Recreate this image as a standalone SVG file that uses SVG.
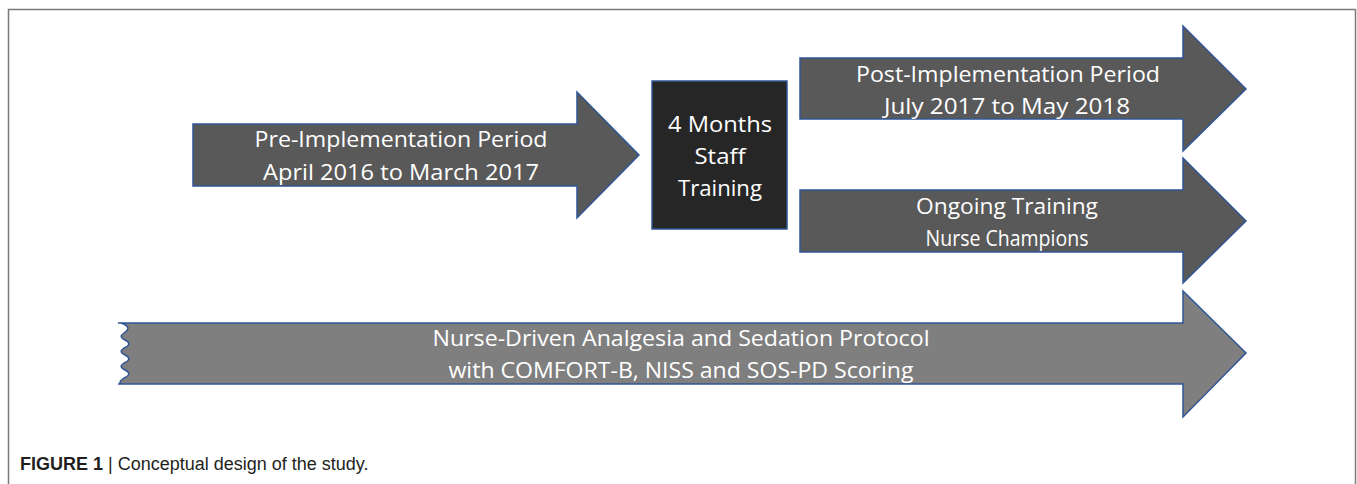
<svg xmlns="http://www.w3.org/2000/svg" width="1357" height="484" viewBox="0 0 1357 484">
  <style>
    .shape { stroke: #2f5597; stroke-width: 1.5; stroke-linejoin: miter; }
    .dark { fill: #595959; }
    .black { fill: #262626; }
    .mid { fill: #7f7f7f; }
    .lbl { font-family: "Open Sans", "Noto Sans", sans-serif; font-size: 22px; fill: #ffffff; text-anchor: middle; }
    .cap { font-family: "Liberation Sans", Arial, sans-serif; font-size: 18px; fill: #231f20; }
  </style>
  <rect width="1357" height="484" fill="#ffffff"/>
  <!-- figure frame -->
  <rect x="8.5" y="9.5" width="1347" height="490" fill="none" stroke="#7a7a7a" stroke-width="1.5"/>

  <g id="pre-implementation">
    <path class="shape dark" d="M193,124 L577,124 L577,92 L639,155 L577,218 L577,186 L193,186 Z"/>
    <text class="lbl" x="401" y="147" textLength="293" lengthAdjust="spacingAndGlyphs">Pre-Implementation Period</text>
    <text class="lbl" x="401" y="180" textLength="276" lengthAdjust="spacingAndGlyphs">April 2016 to March 2017</text>
  </g>

  <g id="staff-training">
    <rect class="shape black" x="652" y="81" width="135" height="148"/>
    <text class="lbl" x="720" y="132" textLength="104" lengthAdjust="spacingAndGlyphs">4 Months</text>
    <text class="lbl" x="720" y="164" textLength="51" lengthAdjust="spacingAndGlyphs">Staff</text>
    <text class="lbl" x="720" y="196" textLength="84" lengthAdjust="spacingAndGlyphs">Training</text>
  </g>

  <g id="post-implementation">
    <path class="shape dark" d="M800,58 L1183,58 L1183,26 L1246,89 L1183,151 L1183,119 L800,119 Z"/>
    <text class="lbl" x="1008" y="82" textLength="304" lengthAdjust="spacingAndGlyphs">Post-Implementation Period</text>
    <text class="lbl" x="1007" y="114" textLength="246" lengthAdjust="spacingAndGlyphs">July 2017 to May 2018</text>
  </g>

  <g id="ongoing-training">
    <path class="shape dark" d="M800,190 L1183,190 L1183,158 L1246,221 L1183,283 L1183,252 L800,252 Z"/>
    <text class="lbl" x="1007" y="214" textLength="182" lengthAdjust="spacingAndGlyphs">Ongoing Training</text>
    <text class="lbl" x="1007" y="246" textLength="163" lengthAdjust="spacingAndGlyphs">Nurse Champions</text>
  </g>

  <g id="protocol">
    <path class="shape mid" d="M118,323 L121,323 Q133,327 124,333 Q118,337 125,340 Q133,344 124,348 Q118,352 125,355 Q133,359 124,363 Q118,367 125,370 Q133,374 124,378 Q118,382 121,384 L118,384 L1183,384 L1183,417 L1246,353 L1183,291 L1183,323 Z"/>
    <text class="lbl" x="681" y="346" textLength="497" lengthAdjust="spacingAndGlyphs">Nurse-Driven Analgesia and Sedation Protocol</text>
    <text class="lbl" x="681" y="378" textLength="465" lengthAdjust="spacingAndGlyphs">with COMFORT-B, NISS and SOS-PD Scoring</text>
  </g>

  <g id="caption">
    <text class="cap" x="20" y="470"><tspan font-weight="bold">FIGURE 1</tspan> | Conceptual design of the study.</text>
  </g>
</svg>
